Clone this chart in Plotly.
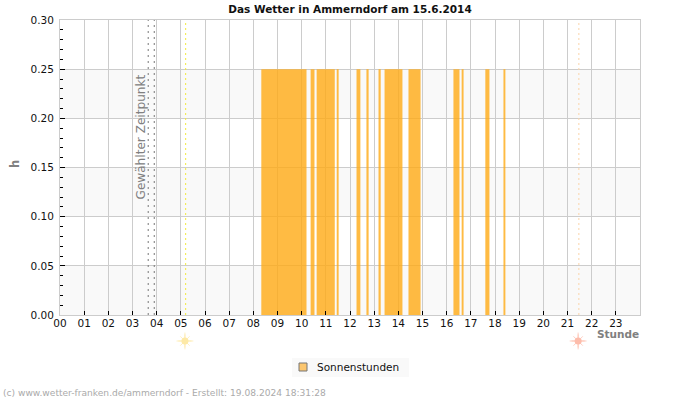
import plotly.graph_objects as go

FONT = "DejaVu Sans"
WIDTH, HEIGHT = 700, 400
LEFT, RIGHT, TOP = 60, 60, 20
PLOT_BOTTOM = 315

# sunshine intervals (hours of the day)
sun_start = [8.33, 10.37, 10.62, 11.45, 12.27, 12.68, 13.18, 13.43, 14.42, 16.28, 16.62, 17.6, 18.35]
sun_end = [10.2, 10.53, 11.37, 11.53, 12.43, 12.77, 13.27, 14.17, 14.92, 16.53, 16.7, 17.77, 18.43]
sun_value = [0.25] * len(sun_start)

hours = list(range(24))
hour_labels = [f"{h:02d}" for h in hours]
y_ticks = [0.0, 0.05, 0.1, 0.15, 0.2, 0.25, 0.3]
gray_bands = [(0.0, 0.05), (0.1, 0.15), (0.2, 0.25)]

selected_times = [3.65, 3.9]
sunrise = 5.2
sunset = 21.47
sunrise_icon = 5.17
sunset_icon = 21.44


def paper_x(px):
    return (px - LEFT) / (WIDTH - LEFT - RIGHT)


def paper_y(px):
    return (HEIGHT - px) / (HEIGHT - TOP)


fig = go.Figure()

fig.add_trace(go.Bar(
    x=[(a + b) / 2 for a, b in zip(sun_start, sun_end)],
    y=sun_value,
    width=[b - a for a, b in zip(sun_start, sun_end)],
    name="Sonnenstunden",
    marker=dict(color="rgba(255,170,20,0.8)", line=dict(width=0)),
))

# sun icons sit on their own hidden axes below the plot
for xpos, color in [(sunrise_icon, "#fde9a6"), (sunset_icon, "#fdbcab")]:
    for symbol, size, line_width in [("asterisk-open", 11, 0.7), ("cross-thin-open", 12, 0.7), ("circle", 7, 0)]:
        fig.add_trace(go.Scatter(
            x=[xpos],
            y=[0.5],
            xaxis="x2",
            yaxis="y2",
            mode="markers",
            marker=dict(symbol=symbol, size=size, color=color, line=dict(color=color, width=line_width)),
        ))

for low, high in gray_bands:
    fig.add_shape(type="rect", x0=0, x1=24, y0=low, y1=high, fillcolor="#f9f9f9",
                  line_width=0, layer="below")

for xpos in selected_times:
    fig.add_shape(type="line", x0=xpos, x1=xpos, y0=0, y1=0.3,
                  line=dict(color="#777777", width=1, dash="2px,4px"))
fig.add_shape(type="line", x0=sunrise, x1=sunrise, y0=0, y1=0.3,
              line=dict(color="#f2ea3c", width=1, dash="2px,3px"))
fig.add_shape(type="line", x0=sunset, x1=sunset, y0=0, y1=0.3,
              line=dict(color="#fbd3a8", width=1, dash="2px,3px"))

# legend box drawn by hand, plotly's own swatch and gaps are too big here
fig.add_shape(type="rect", xref="paper", yref="paper", x0=paper_x(292), x1=paper_x(409),
              y0=paper_y(377), y1=paper_y(358), fillcolor="#f9f9f9", line_width=0)
fig.add_shape(type="rect", xref="paper", yref="paper", x0=paper_x(299), x1=paper_x(307),
              y0=paper_y(371), y1=paper_y(363), fillcolor="#fcc66e", line=dict(color="#777777", width=1))

notes = [
    ("Sonnenstunden", 315, 367, "left", 0, 10.5, "#111111"),
    ("<b>Stunde</b>", 641, 334, "right", 0, 10.5, "#808080"),
    ("<b>h</b>", 15, 164, "center", -90, 11.5, "#808080"),
    ("(c) www.wetter-franken.de/ammerndorf - Erstellt: 19.08.2024 18:31:28", 1, 393, "left", 0, 9.1, "#aaaaaa"),
]
for text, px, py, anchor, angle, size, color in notes:
    fig.add_annotation(text=text, x=paper_x(px), y=paper_y(py), xref="paper", yref="paper",
                       xanchor=anchor, yanchor="middle", showarrow=False, textangle=angle,
                       font=dict(family=FONT, size=size, color=color))

fig.add_annotation(text="Gewählter Zeitpunkt", x=3.35, y=0.1815, xanchor="center", yanchor="middle",
                   showarrow=False, textangle=-90, font=dict(family=FONT, size=12.1, color="#808080"))

fig.update_layout(
    width=WIDTH,
    height=HEIGHT,
    margin=dict(l=LEFT, r=RIGHT, t=TOP, b=0),
    paper_bgcolor="white",
    plot_bgcolor="white",
    barmode="overlay",
    showlegend=False,
    title=dict(text="<b>Das Wetter in Ammerndorf am 15.6.2014</b>", x=0.5, xref="paper", xanchor="center",
               y=0.977, yanchor="middle", font=dict(family=FONT, size=10.5, color="#111111")),
    font=dict(family=FONT, size=10.5, color="#111111"),
    xaxis=dict(
        automargin=False,
        range=[0, 24],
        tickmode="array",
        tickvals=hours,
        ticktext=hour_labels,
        ticks="inside",
        ticklen=4,
        tickcolor="#000000",
        ticklabelstandoff=-2,
        showgrid=True,
        gridcolor="#cccccc",
        linecolor="#cccccc",
        mirror=True,
        zeroline=False,
    ),
    yaxis=dict(
        automargin=False,
        domain=[paper_y(PLOT_BOTTOM), 1],
        range=[0, 0.3],
        tickmode="array",
        tickvals=y_ticks,
        tickformat=".2f",
        ticks="inside",
        ticklen=5,
        tickcolor="#000000",
        ticklabelstandoff=3,
        minor=dict(dtick=0.01, ticks="inside", ticklen=3, tickcolor="#000000"),
        showgrid=True,
        gridcolor="#cccccc",
        linecolor="#cccccc",
        mirror=True,
        zeroline=False,
    ),
    xaxis2=dict(automargin=False, range=[0, 24], anchor="y2", visible=False),
    yaxis2=dict(automargin=False, domain=[paper_y(360), paper_y(322)], range=[0, 1], anchor="x2", visible=False),
)

# the page's default body margin would shift the figure by 8px
fig.write_html("out.html", config={"displayModeBar": False},
               post_script="document.body.style.margin = '0';")
